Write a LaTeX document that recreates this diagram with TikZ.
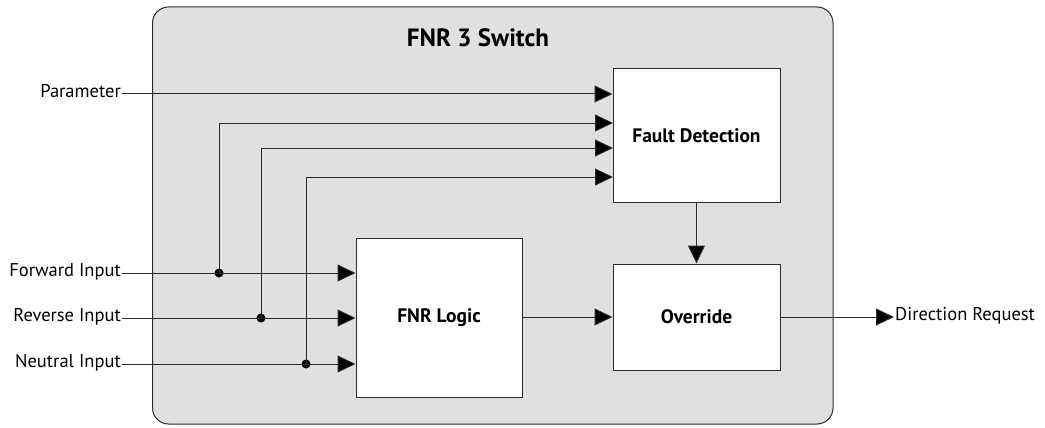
\documentclass[tikz,border=0pt]{standalone}
\usepackage{fontspec}
\setmainfont{PT Sans}
\usetikzlibrary{arrows.meta}
\definecolor{panel}{HTML}{E0E0E0}
\definecolor{ink}{HTML}{2A2A2A}
\begin{document}
\begin{tikzpicture}[x=1pt,y=-1pt,
  blk/.style={draw=ink, fill=white, line width=1pt, inner sep=0pt,
    font=\bfseries\fontsize{19.5}{22}\selectfont},
  lbl/.style={font=\fontsize{18.5}{22}\selectfont, inner ysep=0pt, inner xsep=1pt,
    text height=0.75em, text depth=0.15em},
  wire/.style={line width=1pt, draw=ink},
  arr/.style={wire, -{Triangle[length=18pt,width=17pt,fill=black]}},
  dot/.style={circle, fill=black, inner sep=0pt, minimum size=9pt}]
\useasboundingbox (0,0) rectangle (1045,428);

% enclosing subsystem panel
\draw[draw=ink, fill=panel, line width=1pt, rounded corners=16pt] (152.5,7) rectangle (833,424);
\node[font=\bfseries\fontsize{25}{28}\selectfont] (title) at (478,38) {FNR 3 Switch};

% blocks
\node[blk, minimum width=167pt, minimum height=133pt] (fd) at (696.5,135.5) {Fault Detection};
\node[blk, minimum width=166pt, minimum height=159pt] (logic) at (439,317.5) {FNR Logic};
\node[blk, minimum width=167pt, minimum height=106pt] (ov) at (696.5,317) {Override};

% external signals
\node[lbl, anchor=east] (param) at (122,94) {Parameter};
\node[lbl, anchor=east] (fwd) at (122,273) {Forward Input};
\node[lbl, anchor=east] (rev) at (122,318) {Reverse Input};
\node[lbl, anchor=east] (neu) at (122,364) {Neutral Input};
\node[lbl, anchor=west] (dir) at (894,317) {Direction Request};

% entry points on the fault detection block
\coordinate (fdin2) at (613,123);
\coordinate (fdin3) at (613,148);
\coordinate (fdin4) at (613,177);

% branch points
\node[dot] (d1) at (219,273) {};
\node[dot] (d2) at (261,318) {};
\node[dot] (d3) at (306,364) {};

% connections
\draw[arr] (param.east) -- (param.east -| fd.west);
\draw[arr] (d1.center) |- (fdin2);
\draw[arr] (d2.center) |- (fdin3);
\draw[arr] (d3.center) |- (fdin4);
\draw[arr] (fwd.east) -- (fwd.east -| logic.west);
\draw[arr] (rev.east) -- (rev.east -| logic.west);
\draw[arr] (neu.east) -- (neu.east -| logic.west);
\draw[arr] (logic.east |- ov.west) -- (ov.west);
\draw[arr] (fd.south) -- (ov.north);
\draw[arr] (ov.east) -- (dir.west);
\end{tikzpicture}
\end{document}
